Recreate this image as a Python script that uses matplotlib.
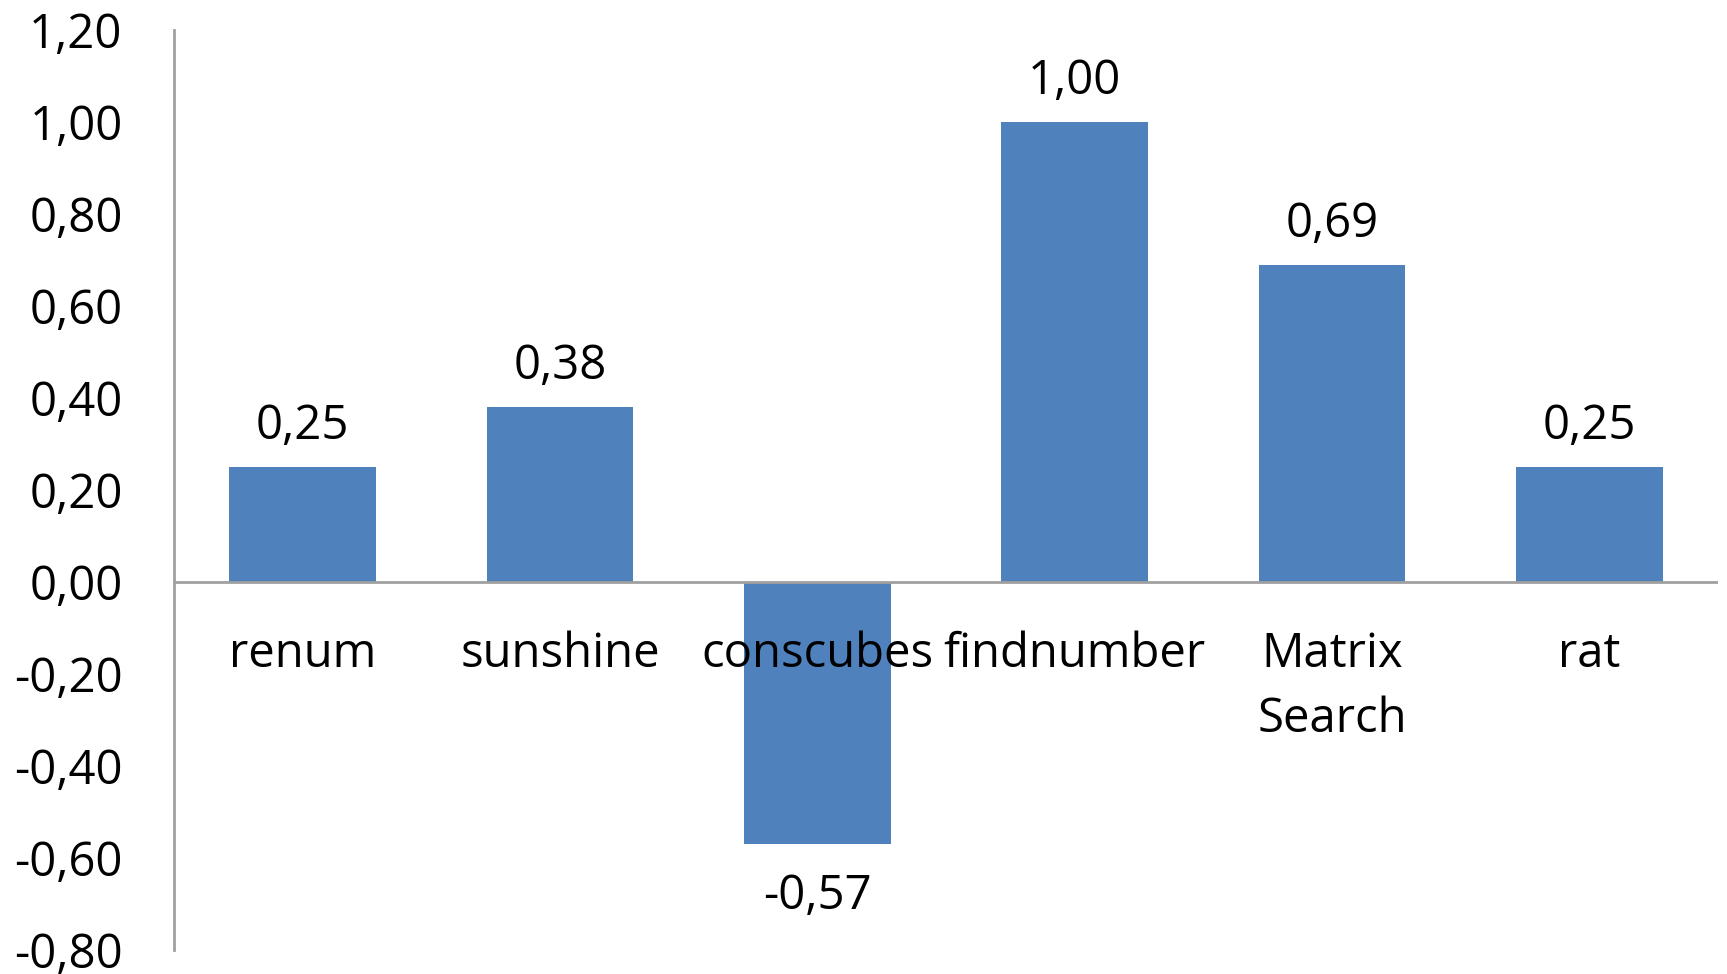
import matplotlib
matplotlib.use("Agg")
import matplotlib.pyplot as plt
from matplotlib.ticker import FixedLocator, FuncFormatter

categories = ["renum", "sunshine", "conscubes", "findnumber", "Matrix\nSearch", "rat"]
values = [0.25, 0.38, -0.57, 1.00, 0.69, 0.25]
yticks = [-0.8, -0.6, -0.4, -0.2, 0.0, 0.2, 0.4, 0.6, 0.8, 1.0, 1.2]

plt.rcParams['font.family'] = ['Open Sans', 'DejaVu Sans']

fig = plt.figure(figsize=(17.27, 9.74), dpi=100)
ax = fig.add_axes([174/1727, 24/974, (1718-174)/1727, (950-30)/974])

bar_color = "#4F81BD"
axis_color = "#A0A0A0"
fs = 34

x = list(range(len(categories)))
ax.bar(x, values, width=0.57, color=bar_color, zorder=2)
ax.set_xlim(-0.5, len(categories) - 0.5)
ax.set_ylim(-0.8, 1.2)

ax.axhline(0, color=axis_color, lw=2, zorder=3)
for s in ["top", "right", "bottom"]:
    ax.spines[s].set_visible(False)
ax.spines["left"].set_color(axis_color)
ax.spines["left"].set_linewidth(2)

ax.yaxis.set_major_locator(FixedLocator(yticks))
ax.yaxis.set_major_formatter(FuncFormatter(lambda v, p: f"{v:.2f}".replace('.', ',').replace('-0,00', '0,00')))
ax.tick_params(axis='y', length=0, pad=37, labelsize=fs)
ax.set_xticks([])

for i, (c, v) in enumerate(zip(categories, values)):
    for j, line in enumerate(c.split("\n")):
        ax.annotate(line, xy=(i, 0), xytext=(0, -61 - j * 47), textcoords="offset points",
                    ha="center", va="baseline", fontsize=fs, zorder=4)
    lbl = f"{v:.2f}".replace('.', ',')
    if v >= 0:
        ax.annotate(lbl, xy=(i, v), xytext=(0, 20), textcoords="offset points",
                    ha="center", va="baseline", fontsize=fs)
    else:
        ax.annotate(lbl, xy=(i, v), xytext=(0, -47), textcoords="offset points",
                    ha="center", va="baseline", fontsize=fs)

fig.savefig("out.png", dpi=100)
